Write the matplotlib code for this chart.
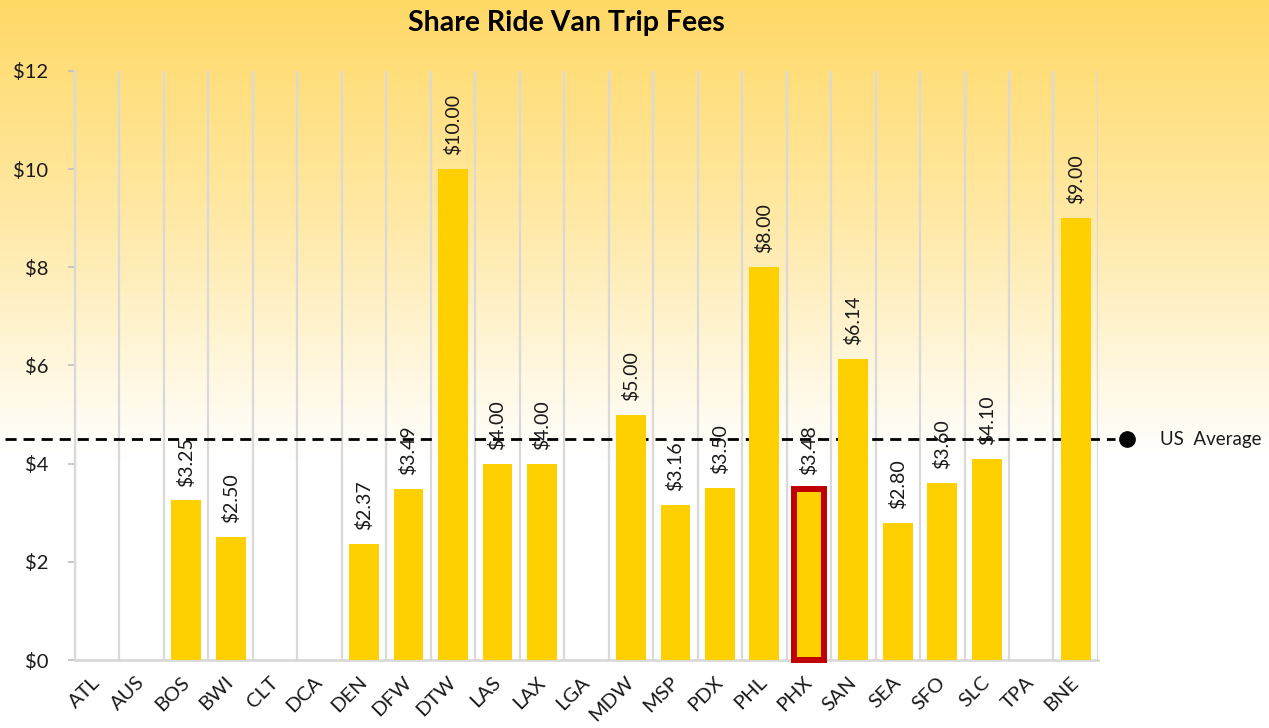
import numpy as np
import matplotlib
matplotlib.use("Agg")
import matplotlib.pyplot as plt
from matplotlib.colors import LinearSegmentedColormap
import matplotlib.transforms as mtransforms

plt.rcParams['font.family'] = ['Lato', 'DejaVu Sans']

airports = ["ATL", "AUS", "BOS", "BWI", "CLT", "DCA", "DEN", "DFW", "DTW", "LAS",
            "LAX", "LGA", "MDW", "MSP", "PDX", "PHL", "PHX", "SAN", "SEA", "SFO",
            "SLC", "TPA", "BNE"]
fees = [np.nan, np.nan, 3.25, 2.50, np.nan, np.nan, 2.37, 3.49, 10.00, 4.00,
        4.00, np.nan, 5.00, 3.16, 3.50, 8.00, 3.48, 6.14, 2.80, 3.60,
        4.10, np.nan, 9.00]
highlight = "PHX"
us_average = 4.5
y_ticks = [0, 2, 4, 6, 8, 10, 12]

fig = plt.figure(figsize=(12.69, 7.28), dpi=100)

# background gradient
bg = fig.add_axes([0, 0, 1, 1], zorder=-10)
cmap = LinearSegmentedColormap.from_list(
    "bg", [(0.0, "#FFD966"), (0.30, "#FFE9A6"), (0.63, "#FFFFFF"), (1.0, "#FFFFFF")])
grad = np.linspace(0, 1, 512).reshape(-1, 1)
bg.imshow(grad, aspect="auto", cmap=cmap, extent=[0, 1, 0, 1], origin="upper")
bg.set_axis_off()

ax = fig.add_axes([0.0591, 0.0934, 0.8061, 0.8091])
ax.set_facecolor("none")

x = np.arange(len(airports))
vals = np.array(fees, dtype=float)
bars = ax.bar(x, np.nan_to_num(vals), width=0.67, color="#FFD000", zorder=3)
for b, name in zip(bars, airports):
    if name == highlight:
        b.set_edgecolor("#C00000")
        b.set_linewidth(4.3)
        b.set_clip_on(False)

# data labels
for xi, v in zip(x, vals):
    if not np.isnan(v):
        ax.annotate(f"${v:.2f}", (xi, v), xytext=(0, 10), textcoords="offset points",
                    rotation=90, ha="center", va="bottom", fontsize=14,
                    color="#1a1a1a", zorder=5)

# US average dashed line extending past axes
trans = mtransforms.blended_transform_factory(ax.transAxes, ax.transData)
ax.plot([-0.068, 1.017], [us_average, us_average], transform=trans, color="black",
        linestyle=(0, (4, 2.5)), linewidth=2.0, clip_on=False, zorder=2)
ax.plot([1.028], [us_average], transform=trans, marker="o", markersize=11,
        color="black", clip_on=False, zorder=2)
ax.text(1.061, us_average, "US  Average", transform=trans, va="center", ha="left",
        fontsize=13.5, color="#1a1a1a")

ax.set_xlim(-0.5, len(airports) - 0.5)
ax.set_ylim(0, 12)
ax.set_yticks(y_ticks)
ax.set_yticklabels([f"${t}" for t in y_ticks], fontsize=14.5, color="#1a1a1a")
ax.set_xticks(x)
ax.set_xticklabels(airports, rotation=45, ha="right", va="center",
                   rotation_mode="anchor", fontsize=14.5, color="#1a1a1a")
offset = mtransforms.ScaledTranslation(9 / 100, 2 / 100, fig.dpi_scale_trans)
for lbl in ax.get_xticklabels():
    lbl.set_transform(lbl.get_transform() + offset)
ax.tick_params(axis="x", length=0, pad=14)
ax.tick_params(axis="y", length=5, color="#BFBFBF", width=1.2, pad=14)

ax.set_xticks(np.arange(-0.5, len(airports), 1), minor=True)
ax.tick_params(axis="x", which="minor", length=0)
ax.grid(True, axis="x", which="minor", color="#D9D9D9", linewidth=1.6, zorder=0)
ax.grid(False, axis="x", which="major")
ax.grid(False, axis="y")

for s in ["top", "right"]:
    ax.spines[s].set_visible(False)
ax.spines["left"].set_color("#D9D9D9")
ax.spines["bottom"].set_color("#D9D9D9")
ax.spines["left"].set_linewidth(1.6)
ax.spines["bottom"].set_linewidth(2.0)

fig.text(0.446, 0.968, "Share Ride Van Trip Fees", ha="center", va="center",
         fontsize=20.5, fontweight="bold", color="black")

fig.savefig("out.png", dpi=100)
